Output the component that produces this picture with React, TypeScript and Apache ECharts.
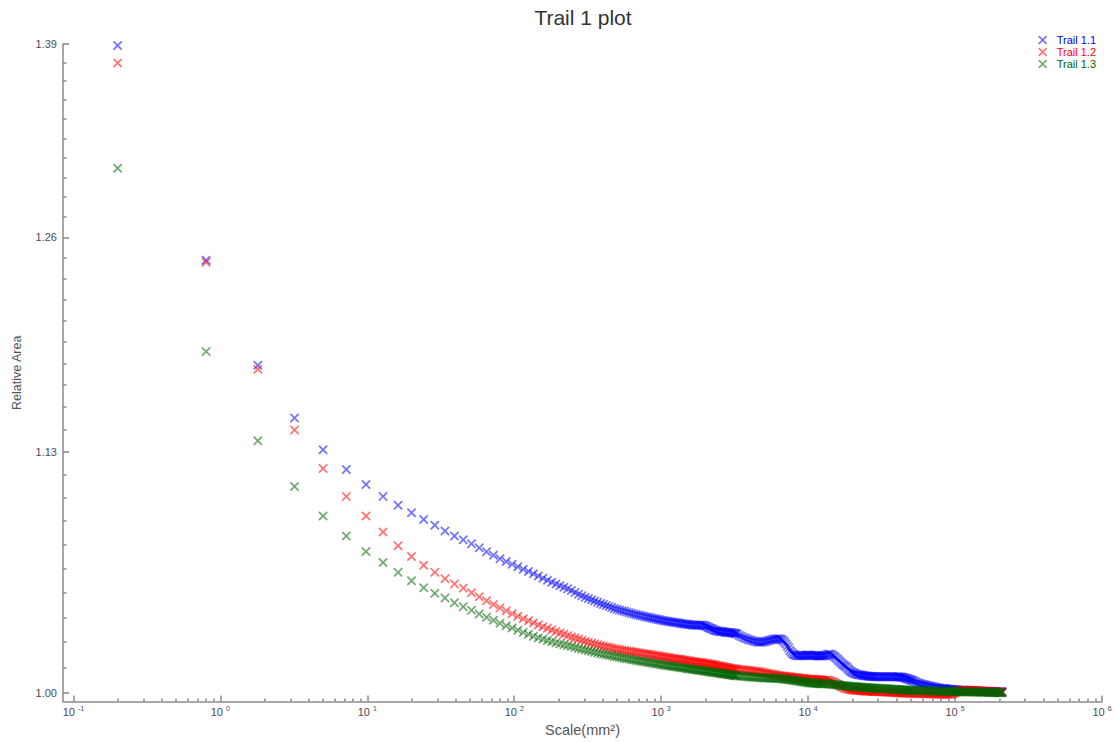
import React, { useEffect, useRef } from 'react';
import * as echarts from 'echarts';

// ---- data ----
const scales = [
  0.2, 0.8, 1.8, 3.2, 5, 7.2, 9.8, 12.8, 16.2, 20, 24.2, 28.8, 33.8, 39.2,
  45, 51.2, 57.8, 64.8, 72.2, 80, 88.2, 96.8, 105.8, 115.2, 125, 135.2, 145.8, 156.8, 168.2, 180, 192.2, 204.8, 217.8, 231.2, 245, 259.2, 273.8, 288.8, 304.2, 320, 336.2, 352.8, 369.8, 387.2, 405,
  423.2, 441.8, 460.8, 480.2, 500, 520.2, 540.8, 561.8, 583.2, 605, 627.2, 649.8, 672.8, 696.2, 720, 744.2, 768.8, 793.8, 819.2, 845, 871.2, 897.8, 924.8, 952.2, 980, 1008.2, 1036.8, 1065.8, 1095.2, 1125, 1155.2, 1185.8, 1216.8, 1248.2, 1280, 1312.2, 1344.8, 1377.8, 1411.2, 1445,
  1479.2, 1513.8, 1548.8, 1584.2, 1620, 1656.2, 1692.8, 1729.8, 1767.2, 1805, 1843.2, 1881.8, 1920.8, 1960.2, 2000, 2040.2, 2080.8, 2121.8, 2163.2, 2205, 2247.2, 2289.8, 2332.8, 2376.2, 2420, 2464.2, 2508.8, 2553.8, 2599.2, 2645, 2691.2, 2737.8, 2784.8, 2832.2, 2880, 2928.2, 2976.8, 3025.8, 3075.2, 3125, 3175.2, 3225.8,
  3276.8, 3380, 3484.8, 3591.2, 3699.2, 3808.8, 3920, 4032.8, 4147.2, 4263.2, 4380.8, 4500, 4620.8, 4743.2, 4867.2, 4992.8, 5120, 5248.8, 5379.2, 5511.2, 5644.8, 5780, 5916.8, 6055.2, 6195.2, 6336.8, 6480, 6624.8, 6771.2, 6919.2, 7068.8, 7220,
  7372.8, 7527.2, 7683.2, 7840.8, 8000, 8160.8, 8323.2, 8487.2, 8652.8, 8820, 8988.8, 9159.2, 9331.2, 9504.8, 9680, 9856.8, 10035.2, 10215.2, 10396.8, 10580, 10764.8, 10951.2, 11139.2, 11328.8, 11520, 11712.8, 11907.2, 12103.2, 12300.8, 12500, 12700.8, 12903.2,
  13209.8, 13520, 13833.8, 14151.2, 14472.2, 14796.8, 15125, 15456.8, 15792.2, 16131.2, 16473.8, 16820, 17169.8, 17523.2, 17880.2, 18240.8, 18605, 18972.8, 19344.2, 19719.2, 20097.8, 20480, 20865.8, 21255.2, 21648.2, 22044.8, 22445, 22848.8, 23256.2, 23667.2, 24081.8, 24500, 24921.8, 25347.2, 25776.2, 26208.8, 26645, 27084.8, 27528.2, 27975.2, 28425.8, 28880,
  29491.2, 30108.8, 30732.8, 31363.2, 32000, 32643.2, 33292.8, 33948.8, 34611.2, 35280, 35955.2, 36636.8, 37324.8, 38019.2, 38720, 39427.2, 40140.8, 40860.8, 41587.2, 42320, 43059.2, 43804.8, 44556.8, 45315.2, 46080, 46851.2, 47628.8, 48412.8, 49203.2, 50000, 50803.2, 51612.8,
  52839.2, 54080, 55335.2, 56604.8, 57888.8, 59187.2, 60500, 61827.2, 63168.8, 64524.8, 65895.2, 67280, 68679.2, 70092.8, 71520.8, 72963.2, 74420, 75891.2, 77376.8, 78876.8, 80391.2, 81920, 83463.2, 85020.8, 86592.8, 88179.2, 89780, 91395.2, 93024.8, 94668.8, 96327.2, 98000, 99687.2, 101388.8, 103104.8, 104835.2, 106580, 108339.2, 110112.8, 111900.8, 113703.2, 115520,
  117964.8, 120435.2, 122931.2, 125452.8, 128000, 130572.8, 133171.2, 135795.2, 138444.8, 141120, 143820.8, 146547.2, 149299.2, 152076.8, 154880, 157708.8, 160563.2, 163443.2, 166348.8, 169280, 172236.8, 175219.2, 178227.2, 181260.8, 184320, 187404.8, 190515.2, 193651.2, 196812.8, 200000, 203212.8, 206451.2, 209305.8,
];

const trail11 = [
  1.389, 1.2455, 1.1808, 1.1497, 1.1313, 1.12, 1.1115, 1.1048, 1.0998, 1.0956, 1.0919, 1.0887, 1.0855, 1.0828,
  1.0808, 1.0785, 1.0763, 1.0742, 1.0723, 1.0704, 1.0689, 1.0674, 1.066, 1.0647, 1.0635, 1.0622, 1.061, 1.0598, 1.0588, 1.0577, 1.0567, 1.0558, 1.055, 1.0542, 1.0532, 1.0522, 1.0513, 1.0504, 1.0496, 1.049, 1.0483, 1.0477, 1.047, 1.0463, 1.0458,
  1.0453, 1.0448, 1.0442, 1.0437, 1.0433, 1.0429, 1.0425, 1.0422, 1.0418, 1.0414, 1.0411, 1.0408, 1.0405, 1.0403, 1.04, 1.0397, 1.0394, 1.0392, 1.039, 1.0388, 1.0385, 1.0383, 1.0381, 1.0379, 1.0377, 1.0375, 1.0373, 1.0371, 1.0369, 1.0368, 1.0367, 1.0366, 1.0364, 1.0363, 1.0361, 1.036, 1.0359, 1.0358, 1.0356, 1.0355,
  1.0354, 1.0353, 1.0352, 1.0351, 1.035, 1.0349, 1.0349, 1.0349, 1.0349, 1.0349, 1.035, 1.035, 1.0349, 1.0347, 1.0345, 1.0342, 1.0338, 1.0335, 1.0333, 1.033, 1.0327, 1.0324, 1.0321, 1.0319, 1.0318, 1.0317, 1.0316, 1.0315, 1.0315, 1.0314, 1.0313, 1.0312, 1.0311, 1.0311, 1.031, 1.031, 1.0309, 1.0309, 1.0308, 1.0307, 1.0306, 1.0305,
  1.0302, 1.0296, 1.0291, 1.0286, 1.0282, 1.0278, 1.0274, 1.0271, 1.0268, 1.0266, 1.0264, 1.0261, 1.026, 1.0259, 1.026, 1.0262, 1.0264, 1.0266, 1.0268, 1.027, 1.0272, 1.0274, 1.0276, 1.0277, 1.0278, 1.0278, 1.0276, 1.0272, 1.0267, 1.026, 1.0251, 1.024,
  1.0229, 1.0217, 1.0207, 1.02, 1.0196, 1.0193, 1.0191, 1.019, 1.019, 1.019, 1.0189, 1.0189, 1.019, 1.0191, 1.0192, 1.0193, 1.0193, 1.0193, 1.0192, 1.0192, 1.0191, 1.0191, 1.019, 1.019, 1.0189, 1.0188, 1.0188, 1.0188, 1.0188, 1.0189, 1.019, 1.0191,
  1.0193, 1.0196, 1.0198, 1.0197, 1.0194, 1.019, 1.0185, 1.0179, 1.0172, 1.0165, 1.0158, 1.0152, 1.0146, 1.014, 1.0136, 1.0131, 1.0124, 1.0117, 1.0111, 1.0107, 1.0103, 1.01, 1.0097, 1.0095, 1.0093, 1.0092, 1.0091, 1.009, 1.0089, 1.0088, 1.0087, 1.0086, 1.0085, 1.0085, 1.0084, 1.0084, 1.0083, 1.0083, 1.0083, 1.0083, 1.0082, 1.0082,
  1.0082, 1.0081, 1.0081, 1.0081, 1.0081, 1.0081, 1.0081, 1.0081, 1.0082, 1.0082, 1.0082, 1.0082, 1.0081, 1.0081, 1.008, 1.008, 1.0081, 1.0081, 1.008, 1.008, 1.008, 1.0079, 1.0078, 1.0076, 1.0074, 1.0072, 1.0071, 1.0069, 1.0067, 1.0065, 1.0063, 1.0061,
  1.0058, 1.0054, 1.0051, 1.0048, 1.0046, 1.0044, 1.0042, 1.0041, 1.0039, 1.0037, 1.0036, 1.0034, 1.0032, 1.0031, 1.0029, 1.0028, 1.0026, 1.0025, 1.0024, 1.0023, 1.0022, 1.0022, 1.0021, 1.0021, 1.002, 1.0019, 1.0018, 1.0018, 1.0017, 1.0017, 1.0016, 1.0016, 1.0015, 1.0015, 1.0014, 1.0014, 1.0013, 1.0013, 1.0013, 1.0013, 1.0012, 1.0012,
  1.0012, 1.0011, 1.0011, 1.0011, 1.001, 1.001, 1.001, 1.0009, 1.0009, 1.0009, 1.0008, 1.0008, 1.0008, 1.0008, 1.0007, 1.0007, 1.0007, 1.0007, 1.0006, 1.0006, 1.0006, 1.0006, 1.0006, 1.0006, 1.0006, 1.0006, 1.0005, 1.0005, 1.0005, 1.0005, 1.0005, 1.0005, 1.0005,
];

const trail12 = [
  1.3766, 1.2442, 1.1784, 1.1427, 1.1205, 1.1048, 1.0938, 1.085, 1.0774, 1.0716, 1.0669, 1.063, 1.0595, 1.0568,
  1.0546, 1.0521, 1.0499, 1.0478, 1.0458, 1.044, 1.0425, 1.0409, 1.0396, 1.0383, 1.0372, 1.0361, 1.035, 1.0341, 1.0332, 1.0323, 1.0316, 1.0308, 1.0301, 1.0294, 1.0287, 1.0282, 1.0276, 1.027, 1.0265, 1.026, 1.0255, 1.0251, 1.0247, 1.0243, 1.0239,
  1.0236, 1.0233, 1.023, 1.0227, 1.0224, 1.0221, 1.0219, 1.0217, 1.0215, 1.0213, 1.0211, 1.0209, 1.0207, 1.0206, 1.0204, 1.0202, 1.02, 1.0199, 1.0197, 1.0196, 1.0194, 1.0192, 1.019, 1.0189, 1.0187, 1.0186, 1.0184, 1.0183, 1.0181, 1.018, 1.0178, 1.0177, 1.0175, 1.0174, 1.0173, 1.0172, 1.0171, 1.017, 1.0168, 1.0167,
  1.0166, 1.0164, 1.0163, 1.0162, 1.016, 1.0159, 1.0158, 1.0157, 1.0156, 1.0155, 1.0155, 1.0154, 1.0152, 1.0151, 1.015, 1.0149, 1.0148, 1.0147, 1.0146, 1.0145, 1.0144, 1.0143, 1.0141, 1.014, 1.0138, 1.0137, 1.0136, 1.0135, 1.0134, 1.0133, 1.0131, 1.013, 1.0129, 1.0128, 1.0127, 1.0126, 1.0124, 1.0123, 1.0122, 1.0121, 1.0121, 1.012,
  1.012, 1.0119, 1.0118, 1.0117, 1.0116, 1.0115, 1.0115, 1.0113, 1.0112, 1.0111, 1.011, 1.0109, 1.0107, 1.0106, 1.0104, 1.0102, 1.01, 1.0099, 1.0097, 1.0096, 1.0095, 1.0093, 1.0092, 1.009, 1.0089, 1.0088, 1.0087, 1.0086, 1.0085, 1.0084, 1.0083, 1.0082,
  1.0081, 1.0081, 1.008, 1.0079, 1.0078, 1.0078, 1.0077, 1.0076, 1.0075, 1.0074, 1.0073, 1.0073, 1.0072, 1.0071, 1.007, 1.007, 1.0069, 1.0069, 1.0068, 1.0068, 1.0068, 1.0068, 1.0067, 1.0067, 1.0066, 1.0066, 1.0066, 1.0066, 1.0065, 1.0065, 1.0064, 1.0064,
  1.0064, 1.0063, 1.0062, 1.006, 1.0057, 1.0054, 1.0051, 1.0047, 1.0043, 1.0039, 1.0035, 1.0032, 1.0029, 1.0026, 1.0023, 1.0021, 1.0019, 1.0017, 1.0016, 1.0015, 1.0014, 1.0013, 1.0012, 1.0012, 1.0011, 1.0011, 1.0011, 1.0011, 1.001, 1.001, 1.0009, 1.0009, 1.0008, 1.0008, 1.0008, 1.0008, 1.0007, 1.0007, 1.0006, 1.0006, 1.0006, 1.0006,
  1.0006, 1.0005, 1.0005, 1.0005, 1.0004, 1.0004, 1.0004, 1.0003, 1.0003, 1.0003, 1.0002, 1.0002, 1.0002, 1.0001, 1.0001, 1.0001, 1.0, 1.0, 1.0, 0.9999, 0.9999, 0.9999, 0.9998, 0.9998, 0.9998, 0.9998, 0.9998, 0.9998, 0.9997, 0.9997, 0.9997, 0.9997,
  0.9996, 0.9996, 0.9996, 0.9996, 0.9996, 0.9996, 0.9995, 0.9995, 0.9995, 0.9995, 0.9995, 0.9995, 0.9994, 0.9994, 0.9994, 0.9994, 0.9994, 0.9994, 0.9993, 0.9993, 0.9993, 0.9993, 0.9992, 0.9992, 0.9992, 0.9992, 0.9992, 0.9992, 0.9992, 0.9993, 0.9995, 0.9997, 1.0, 1.0003, 1.0005, 1.0007, 1.0009, 1.001, 1.0011, 1.0012, 1.0013, 1.0013,
  1.0013, 1.0013, 1.0013, 1.0013, 1.0012, 1.0012, 1.0012, 1.0011, 1.0011, 1.0011, 1.001, 1.001, 1.0009, 1.0009, 1.0008, 1.0008, 1.0008, 1.0007, 1.0007, 1.0007, 1.0006, 1.0006, 1.0006, 1.0005, 1.0005, 1.0005, 1.0004, 1.0004, 1.0004, 1.0003, 1.0003, 1.0003, 1.0003,
];

const trail13 = [
  1.305, 1.1891, 1.1364, 1.1104, 1.0938, 1.0828, 1.0743, 1.0683, 1.063, 1.0585, 1.0547, 1.0518, 1.0492, 1.0467,
  1.0446, 1.0427, 1.0408, 1.0391, 1.0375, 1.0359, 1.0346, 1.0334, 1.0322, 1.0311, 1.0301, 1.0291, 1.0283, 1.0276, 1.0269, 1.0263, 1.0257, 1.0252, 1.0247, 1.0242, 1.0237, 1.0232, 1.0227, 1.0223, 1.0219, 1.0215, 1.0211, 1.0208, 1.0204, 1.02, 1.0197,
  1.0195, 1.0192, 1.0189, 1.0186, 1.0184, 1.0181, 1.0179, 1.0176, 1.0174, 1.0172, 1.017, 1.0167, 1.0166, 1.0164, 1.0162, 1.016, 1.0158, 1.0157, 1.0155, 1.0153, 1.0152, 1.015, 1.0148, 1.0147, 1.0145, 1.0143, 1.0142, 1.014, 1.0139, 1.0138, 1.0136, 1.0135, 1.0134, 1.0133, 1.0131, 1.013, 1.0129, 1.0128, 1.0127, 1.0126,
  1.0125, 1.0123, 1.0122, 1.0121, 1.012, 1.0119, 1.0118, 1.0117, 1.0116, 1.0115, 1.0114, 1.0113, 1.0112, 1.0111, 1.011, 1.0109, 1.0108, 1.0107, 1.0106, 1.0105, 1.0104, 1.0103, 1.0103, 1.0102, 1.0101, 1.01, 1.0099, 1.0098, 1.0097, 1.0096, 1.0096, 1.0095, 1.0094, 1.0093, 1.0092, 1.0091, 1.0091, 1.009, 1.0089, 1.0088, 1.0088, 1.0087,
  1.0086, 1.0085, 1.0084, 1.0084, 1.0083, 1.0082, 1.0081, 1.008, 1.008, 1.0079, 1.0079, 1.0078, 1.0077, 1.0076, 1.0076, 1.0075, 1.0075, 1.0075, 1.0075, 1.0074, 1.0074, 1.0074, 1.0074, 1.0073, 1.0073, 1.0072, 1.0071, 1.0071, 1.007, 1.0069, 1.0068, 1.0067,
  1.0066, 1.0066, 1.0065, 1.0064, 1.0063, 1.0062, 1.0061, 1.006, 1.0059, 1.0058, 1.0057, 1.0056, 1.0055, 1.0054, 1.0053, 1.0052, 1.0051, 1.0051, 1.005, 1.0049, 1.0049, 1.0048, 1.0048, 1.0048, 1.0047, 1.0047, 1.0047, 1.0046, 1.0046, 1.0046, 1.0046, 1.0046,
  1.0045, 1.0045, 1.0044, 1.0043, 1.0043, 1.0042, 1.0041, 1.004, 1.004, 1.0039, 1.0038, 1.0037, 1.0037, 1.0036, 1.0035, 1.0034, 1.0034, 1.0033, 1.0033, 1.0032, 1.0032, 1.0031, 1.0031, 1.003, 1.003, 1.0029, 1.0029, 1.0028, 1.0028, 1.0027, 1.0027, 1.0026, 1.0026, 1.0026, 1.0025, 1.0025, 1.0025, 1.0024, 1.0024, 1.0024, 1.0023, 1.0023,
  1.0023, 1.0022, 1.0022, 1.0022, 1.0021, 1.0021, 1.0021, 1.002, 1.002, 1.0019, 1.0019, 1.0018, 1.0018, 1.0017, 1.0017, 1.0017, 1.0016, 1.0016, 1.0016, 1.0015, 1.0015, 1.0015, 1.0014, 1.0014, 1.0014, 1.0014, 1.0013, 1.0013, 1.0013, 1.0013, 1.0012, 1.0012,
  1.0012, 1.0012, 1.0011, 1.0011, 1.0011, 1.0011, 1.001, 1.001, 1.001, 1.001, 1.001, 1.001, 1.0009, 1.0009, 1.0009, 1.0009, 1.0009, 1.0009, 1.0008, 1.0008, 1.0008, 1.0008, 1.0007, 1.0007, 1.0007, 1.0007, 1.0007, 1.0007, 1.0006, 1.0006, 1.0006, 1.0006, 1.0006, 1.0006, 1.0005, 1.0005, 1.0005, 1.0005, 1.0005, 1.0005, 1.0005, 1.0005,
  1.0005, 1.0004, 1.0004, 1.0004, 1.0004, 1.0004, 1.0003, 1.0003, 1.0003, 1.0003, 1.0003, 1.0003, 1.0002, 1.0002, 1.0002, 1.0002, 1.0002, 1.0002, 1.0002, 1.0002, 1.0001, 1.0001, 1.0001, 1.0001, 1.0001, 1.0001, 1.0001, 1.0001, 1.0, 1.0, 1.0, 1.0, 1.0,
];

const seriesNames = ['Trail 1.1', 'Trail 1.2', 'Trail 1.3'];
const seriesColors = ['#0000ff', '#ff0000', '#006400'];
const seriesValues = [trail11, trail12, trail13];

const yTickLabels = [1.0, 1.13, 1.26, 1.39];
const yMinorDivisions = 10;
const yAxisBottomValue = 0.9955;
const xDecades = [-1, 0, 1, 2, 3, 4, 5, 6];
const xMinorMultipliers = [2, 3, 4, 5, 6, 7, 8, 9];
const xAxisLeftExponent = -1.0707;

const CROSS = 'path://M1.3,0L5,3.7L8.7,0L10,1.3L6.3,5L10,8.7L8.7,10L5,6.3L1.3,10L0,8.7L3.7,5L0,1.3Z';
const FONT = 'Liberation Sans, Arial, sans-serif';
const AXIS_COLOR = '#8a8a8a';
const LABEL_COLOR = '#4a4a62';

export default function App() {
  const ref = useRef<HTMLDivElement>(null);

  useEffect(() => {
    if (!ref.current) return;
    const chart = echarts.init(ref.current, undefined, { renderer: 'svg' });

    const yMajor = yTickLabels.map((v) => Math.log10(v));
    const yMinor: number[] = [];
    for (let i = 0; i < yTickLabels.length - 1; i++) {
      const a = yTickLabels[i];
      const b = yTickLabels[i + 1];
      for (let j = 1; j < yMinorDivisions; j++) {
        yMinor.push(Math.log10(a + ((b - a) * j) / yMinorDivisions));
      }
    }
    const xMinor: number[] = [];
    for (let i = 0; i < xDecades.length - 1; i++) {
      xMinorMultipliers.forEach((m) => xMinor.push(Math.log10(m) + xDecades[i]));
    }

    const xMin = xAxisLeftExponent;
    const xMax = xDecades[xDecades.length - 1];
    const yMin = Math.log10(yAxisBottomValue);
    const yMax = Math.log10(yTickLabels[yTickLabels.length - 1]);

    const lineStyle = { color: AXIS_COLOR, width: 1.5 };
    const n = Math.min(scales.length, trail11.length, trail12.length, trail13.length);

    const option: any = {
      animation: false,
      textStyle: { fontFamily: FONT },
      title: {
        text: 'Trail 1 plot',
        left: 578,
        top: 2,
        textAlign: 'center',
        textStyle: { fontSize: 21, fontWeight: 'normal', color: '#333', fontFamily: FONT },
      },
      legend: {
        orient: 'vertical',
        right: 14,
        top: 29,
        itemWidth: 18,
        itemHeight: 9,
        itemGap: 0,
        selectedMode: false,
        textStyle: { fontSize: 11, fontFamily: FONT, lineHeight: 12 },
        data: seriesNames.map((nm, i) => ({
          name: nm,
          icon: CROSS,
          textStyle: { color: seriesColors[i] },
        })),
      },
      grid: { left: 63, right: 13, top: 44, bottom: 35, containLabel: false },
      xAxis: [
        {
          type: 'value',
          min: xMin,
          max: xMax,
          name: 'Scale(mm²)',
          nameLocation: 'middle',
          nameGap: 16,
          nameTextStyle: { fontSize: 14.5, color: '#555', fontFamily: FONT },
          axisLine: { show: true, onZero: false, lineStyle },
          axisTick: { show: true, inside: true, length: 6, customValues: xDecades, lineStyle },
          axisLabel: {
            customValues: xDecades,
            margin: 3,
            formatter: (v: number) => `{b|10 }{s|${Math.round(v)}}`,
            rich: {
              b: { fontSize: 11, color: LABEL_COLOR, fontFamily: FONT },
              s: { fontSize: 7, color: LABEL_COLOR, fontFamily: FONT, padding: [0, 0, 7, 0] },
            },
          },
          splitLine: { show: false },
        },
        {
          type: 'value',
          min: xMin,
          max: xMax,
          position: 'bottom',
          axisLine: { show: false, onZero: false },
          axisTick: { show: true, inside: true, length: 3, customValues: xMinor, lineStyle },
          axisLabel: { show: false },
          splitLine: { show: false },
        },
      ],
      yAxis: [
        {
          type: 'value',
          min: yMin,
          max: yMax,
          name: 'Relative Area',
          nameLocation: 'middle',
          nameGap: 40,
          nameTextStyle: { fontSize: 12.5, color: '#555', fontFamily: FONT },
          axisLine: { show: true, onZero: false, lineStyle },
          axisTick: { show: true, inside: true, length: 6, customValues: yMajor, lineStyle },
          axisLabel: {
            customValues: yMajor,
            margin: 6,
            fontSize: 11,
            color: LABEL_COLOR,
            fontFamily: FONT,
            formatter: (v: number) => Math.pow(10, v).toFixed(2),
          },
          splitLine: { show: false },
        },
        {
          type: 'value',
          min: yMin,
          max: yMax,
          position: 'left',
          axisLine: { show: false, onZero: false },
          axisTick: { show: true, inside: true, length: 3.5, customValues: yMinor, lineStyle },
          axisLabel: { show: false },
          splitLine: { show: false },
        },
      ],
      series: seriesNames.map((name, si) => ({
        type: 'scatter',
        name,
        xAxisIndex: 0,
        yAxisIndex: 0,
        symbol: CROSS,
        symbolSize: 9.5,
        silent: true,
        itemStyle: { color: seriesColors[si], opacity: 0.55 },
        emphasis: { disabled: true },
        data: scales.slice(0, n).map((s, i) => [Math.log10(s), Math.log10(seriesValues[si][i])]),
      })),
    };

    chart.setOption(option);
    return () => chart.dispose();
  }, []);

  return (
    <div
      ref={ref}
      style={{ position: 'fixed', left: 0, top: 0, width: 1115, height: 742, background: '#fff' }}
    />
  );
}
